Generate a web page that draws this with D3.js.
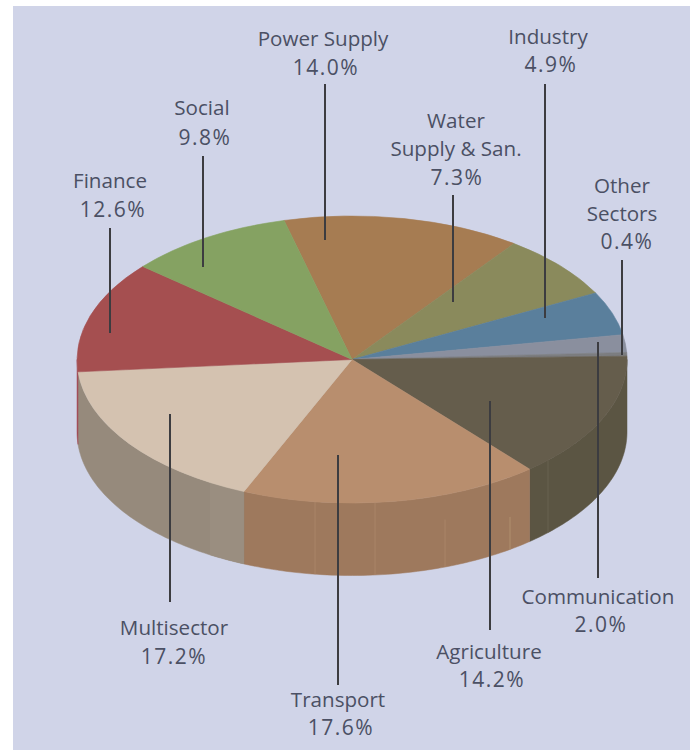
<!DOCTYPE html>
<html>
<head>
<meta charset="utf-8">
<script src="https://cdn.jsdelivr.net/npm/d3@7"></script>
<style>
    html, body { margin: 0; padding: 0; background: #fff; overflow: hidden; }
    svg { display: block; }
    text { font-family: "Open Sans", "Noto Sans", sans-serif; font-size: 20.6px; fill: #4b5064; }
    text.pct { font-size: 21px; letter-spacing: 1.5px; }
</style>
</head>
<body>
<div id="chart"></div>
<script>
// clockwise from the power/social boundary
const sectors = ["Power Supply", "Water Supply & San.", "Industry", "Communication", "Other Sectors", "Agriculture", "Transport", "Multisector", "Finance", "Social"];
const shares = [14.0, 7.3, 4.9, 2.0, 0.4, 14.2, 17.6, 17.2, 12.6, 9.8];
const topColors = ["#a67c52", "#8a8a5c", "#5a7f9c", "#8a8f9e", "#7c7d80", "#655d4c", "#b88e6e", "#d4c2b0", "#a54f50", "#85a262"];
const wallColors = ["#8a6844", "#72724c", "#4a6a82", "#737884", "#5c5a54", "#5b5543", "#9e795d", "#968a7c", "#a34f58", "#6e8852"];

const width = 690;
const height = 750;
const cx = 352, cy = 359.5, rx = 275, ry = 143.5, depth = 72.5;
const startDeg = -14.3;

// where each label and its leader line sit
const labelLayout = {
    "Power Supply": { x: 323, lines: ["Power Supply", "14.0%"], ys: [46, 75], lx: 325, y1: 84, y2: 240 },
    "Water Supply & San.": { x: 456, lines: ["Water", "Supply & San.", "7.3%"], ys: [128, 156, 185], lx: 453, y1: 195, y2: 302, pctDx: 1 },
    "Industry": { x: 548, lines: ["Industry", "4.9%"], ys: [44, 72], lx: 545, y1: 84, y2: 318 },
    "Communication": { x: 598, lines: ["Communication", "2.0%"], ys: [604, 632], lx: 598, y1: 342, y2: 578 },
    "Other Sectors": { x: 622, lines: ["Other", "Sectors", "0.4%"], ys: [193, 221, 249], lx: 622, y1: 260, y2: 355, pctDx: 5 },
    "Agriculture": { x: 489, lines: ["Agriculture", "14.2%"], ys: [659, 687], lx: 490, y1: 401, y2: 630 },
    "Transport": { x: 338, lines: ["Transport", "17.6%"], ys: [707, 735], lx: 338, y1: 455, y2: 685 },
    "Multisector": { x: 174, lines: ["Multisector", "17.2%"], ys: [635, 664], lx: 170, y1: 414, y2: 602, pctDx: 0 },
    "Finance": { x: 110, lines: ["Finance", "12.6%"], ys: [188, 217], lx: 110, y1: 228, y2: 333 },
    "Social": { x: 202, lines: ["Social", "9.8%"], ys: [115, 145], lx: 203, y1: 156, y2: 267 }
};

// faint vertical seams on the wall
const seams = [
    { x: 315, y0: 0, color: "#a98569" }, { x: 375, y0: 0, color: "#a98569" },
    { x: 445, y0: 25, color: "#a98569" }, { x: 510, y0: 40, color: "#b0906f" },
    { x: 548, y0: 0, color: "#686250" }
];

const svg = d3.select("#chart").append("svg")
    .attr("width", width)
    .attr("height", height);

svg.append("rect")
    .attr("x", 13).attr("y", 6)
    .attr("width", width - 13).attr("height", height - 6)
    .attr("fill", "#d0d4e8");

const pie = d3.pie().sort(null)
    .startAngle(startDeg * Math.PI / 180)
    .endAngle((startDeg + 360) * Math.PI / 180);
const arcs = pie(shares);

const px = t => cx + rx * Math.sin(t);
const py = t => cy - ry * Math.cos(t);

// side walls, only the part that faces the viewer
const line = d3.line().x(d => d[0]).y(d => d[1]);
const walls = svg.append("g");
arcs.forEach((a, i) => {
    const from = Math.max(a.startAngle, Math.PI / 2);
    const to = Math.min(a.endAngle, Math.PI * 3 / 2);
    if (to <= from) return;
    const angles = d3.range(0, 61).map(k => from + (to - from) * k / 60);
    const upper = angles.map(t => [px(t), py(t)]);
    const lower = angles.map(t => [px(t), py(t) + depth]).reverse();
    walls.append("path")
        .attr("d", line(upper.concat(lower)) + "Z")
        .attr("fill", wallColors[i])
        .attr("stroke", wallColors[i])
        .attr("stroke-width", 0.5);
});

// lighter end of the multisector wall
const band = d3.range(0, 21).map(k => {
    const t = Math.PI - Math.asin((210 - cx) / rx);
    const e = arcs[6].endAngle;
    return t + (e - t) * k / 20;
});
walls.append("path")
    .attr("d", line(band.map(t => [px(t), py(t)]).concat(band.map(t => [px(t), py(t) + depth]).reverse())) + "Z")
    .attr("fill", "#9a8e80");

seams.forEach(s => {
    const t = Math.PI - Math.asin((s.x - cx) / rx);
    walls.append("line")
        .attr("x1", s.x).attr("x2", s.x)
        .attr("y1", py(t) + s.y0).attr("y2", py(t) + depth)
        .attr("stroke", s.color)
        .attr("stroke-width", 1);
});

// top face, a unit pie squashed into the ellipse
const arc = d3.arc().innerRadius(0).outerRadius(1);
svg.append("g")
    .attr("transform", `translate(${cx},${cy}) scale(${rx},${ry})`)
    .selectAll("path")
    .data(arcs)
    .enter()
    .append("path")
    .attr("d", arc)
    .attr("fill", (d, i) => topColors[i])
    .attr("stroke", (d, i) => topColors[i])
    .attr("stroke-width", 0.6)
    .attr("vector-effect", "non-scaling-stroke");

// leader lines and labels
sectors.forEach(name => {
    const l = labelLayout[name];
    svg.append("line")
        .attr("x1", l.lx).attr("x2", l.lx)
        .attr("y1", l.y1).attr("y2", l.y2)
        .attr("stroke", "#3c3c40")
        .attr("stroke-width", 2);
    l.lines.forEach((t, i) => {
        const isPct = t.endsWith("%");
        const dx = l.pctDx === undefined ? 3 : l.pctDx;
        svg.append("text")
            .attr("class", isPct ? "pct" : null)
            .attr("x", isPct ? l.x + dx : l.x)
            .attr("y", l.ys[i])
            .attr("text-anchor", "middle")
            .text(t);
    });
});
</script>
</body>
</html>
